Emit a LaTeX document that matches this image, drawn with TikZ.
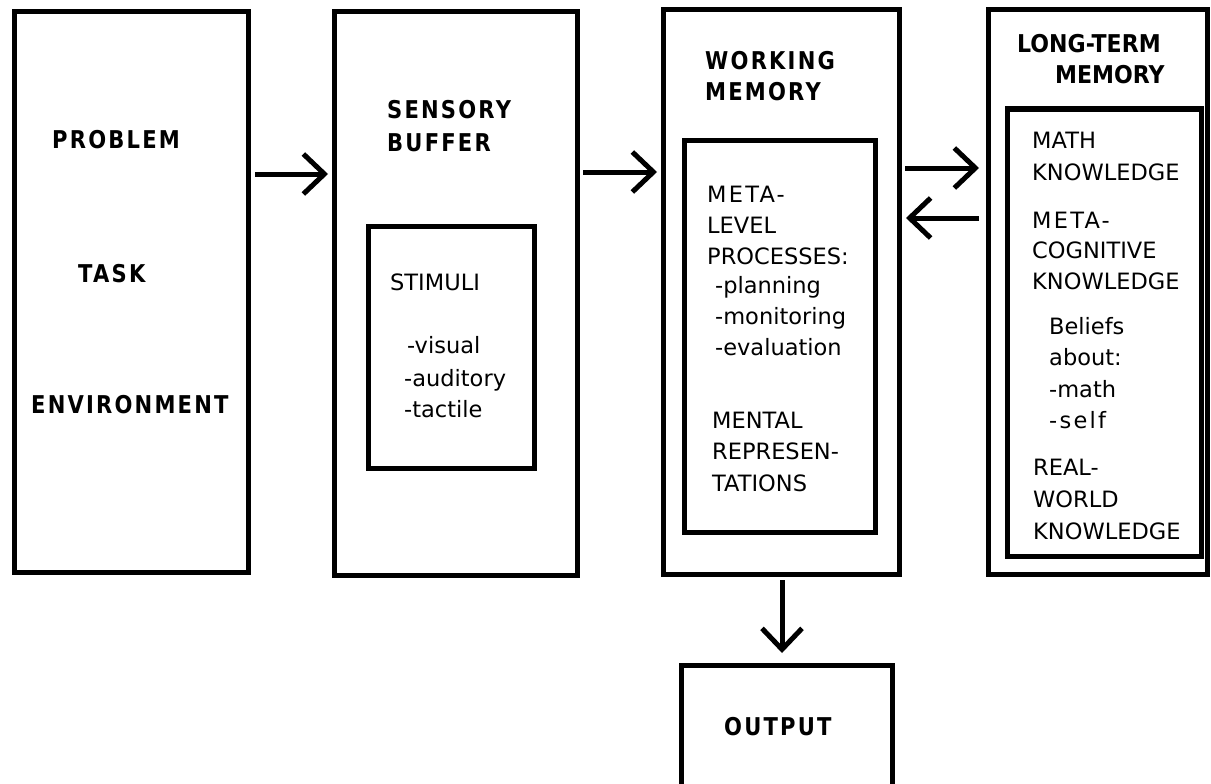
\documentclass[tikz,border=0pt]{standalone}
\usepackage{fontspec}
\usetikzlibrary{arrows.meta}
\newfontfamily\fhead[FakeStretch=0.86,LetterSpace=9]{DejaVu Sans Bold}
\newfontfamily\fheadn[FakeStretch=0.9]{DejaVu Sans Bold}
\newfontfamily\fbody{DejaVu Sans}
\newfontfamily\fbodysp[LetterSpace=10]{DejaVu Sans}
\tikzset{
  boxnode/.style={draw, line width=5pt, inner sep=0pt, outer sep=0pt},
  head/.style={anchor=base west, inner sep=0pt, font=\fhead\fontsize{24.5}{28}\selectfont},
  headn/.style={anchor=base west, inner sep=0pt, font=\fheadn\fontsize{24.5}{28}\selectfont},
  body/.style={anchor=base west, inner sep=0pt, font=\fbody\fontsize{22.5}{26}\selectfont},
  bodysp/.style={anchor=base west, inner sep=0pt, font=\fbodysp\fontsize{22.5}{26}\selectfont},
  arr/.style={line width=5pt, -{Straight Barb[length=21pt,width=40pt]}}
}
\begin{document}
\begin{tikzpicture}[x=1pt,y=-1pt]
\useasboundingbox (0,0) rectangle (1211,784);
\clip (0,0) rectangle (1211,784);
% boxes
\node[boxnode, minimum width=234pt, minimum height=560pt] (prob) at (131,292) {};
\node[boxnode, minimum width=243pt, minimum height=563pt] (sens) at (455.5,293.5) {};
\node[boxnode, minimum width=166pt, minimum height=242pt] (stim) at (451,347) {};
\node[boxnode, minimum width=236pt, minimum height=564pt] (wm) at (781,292) {};
\node[boxnode, minimum width=191pt, minimum height=392pt] (wmi) at (779.5,336) {};
\node[boxnode, minimum width=219pt, minimum height=564pt] (ltm) at (1097.5,292) {};
\node[boxnode, minimum width=194pt, minimum height=447pt] (ltmi) at (1104,332.5) {};
\node[boxnode, minimum width=211pt, minimum height=150pt] (out) at (786.5,740) {};
% problem task environment
\node[head] (tprob) at (52,148) {PROBLEM};
\node[head] (ttask) at (78,282) {TASK};
\node[head] (tenv) at (31,413) {ENVIRONMENT};
% sensory buffer
\node[head] (tsens) at (387,118) {SENSORY};
\node[head] (tbuf) at (387,151) {BUFFER};
\node[body] (tstim) at (390,290) {STIMULI};
\node[body] (tvis) at (407,353) {-visual};
\node[body] (taud) at (404,386) {-auditory};
\node[body] (ttac) at (404,417) {-tactile};
% working memory
\node[head] (twork) at (705,70) {WORKING};
\node[head] (twmem) at (705,100) {MEMORY};
\node[bodysp] (tmeta) at (707,202) {META-};
\node[body] (tlevel) at (707,233) {LEVEL};
\node[body] (tproc) at (707,264) {PROCESSES:};
\node[body] (tplan) at (715,293) {-planning};
\node[body] (tmon) at (715,324) {-monitoring};
\node[body] (teval) at (715,355) {-evaluation};
\node[body] (tment) at (712,428) {MENTAL};
\node[body] (trep) at (712,459) {REPRESEN-};
\node[body] (ttat) at (712,491) {TATIONS};
% long-term memory
\node[headn] (tlong) at (1017,53) {LONG-TERM};
\node[headn] (tlmem) at (1055,84) {MEMORY};
\node[body] (tmath) at (1032,148) {MATH};
\node[body] (tkn1) at (1032,180) {KNOWLEDGE};
\node[bodysp] (tmeta2) at (1032,228) {META-};
\node[body] (tcog) at (1032,258) {COGNITIVE};
\node[body] (tkn2) at (1032,289) {KNOWLEDGE};
\node[body] (tbel) at (1049,334) {Beliefs};
\node[body] (tabout) at (1049,365) {about:};
\node[body] (tmath2) at (1049,397) {-math};
\node[bodysp] (tself) at (1049,428) {-self};
\node[body] (treal) at (1033,475) {REAL-};
\node[body] (tworld) at (1033,507) {WORLD};
\node[body] (tkn3) at (1033,539) {KNOWLEDGE};
% output
\node[head] (tout) at (724,735) {OUTPUT};
% arrows
\draw[arr] ([shift={(7,-118)}]prob.east) -- ([shift={(-6,-119.5)}]sens.west);
\draw[arr] ([shift={(6,-121.5)}]sens.east) -- ([shift={(-6,-120)}]wm.west);
\draw[arr] ([shift={(6,-124)}]wm.east) -- ([shift={(-9,-124)}]ltm.west);
\draw[arr] ([shift={(-9,-74)}]ltm.west) -- ([shift={(7,-74)}]wm.east);
\draw[arr] ([shift={(1,6)}]wm.south) -- ([shift={(-4.5,-12)}]out.north);
\end{tikzpicture}
\end{document}
